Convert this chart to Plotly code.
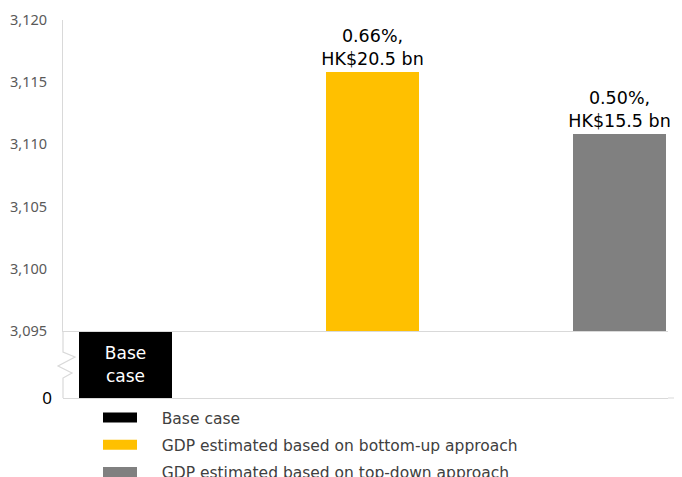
import plotly.graph_objects as go

# ---- data ----
categories = ["Base case",
              "GDP estimated based on bottom-up approach",
              "GDP estimated based on top-down approach"]
x_pos = [0, 1, 2]
values = [3095.3, 3115.8, 3110.8]
bar_text = ["Base<br>case", "0.66%,<br>HK$20.5 bn", "0.50%,<br>HK$15.5 bn"]
colors = ["#000000", "#FFC000", "#808080"]
upper_ticks = [3095, 3100, 3105, 3110, 3115, 3120]

# ---- layout helpers (screen pixels -> paper); page body has an 8px margin ----
OFF = 8
W, H = 682 - OFF, 477 - OFF
L, R, T, B = 63 - OFF, 14, 20 - OFF, 79
pw, ph = W - L - R, H - T - B
def px(x): return (x - OFF - L) / pw
def py(y): return (H - B - (y - OFF)) / ph
split = py(331)

fig = go.Figure()

# base case bar in lower (broken) axis
fig.add_trace(go.Bar(
    x=[x_pos[0]], y=[values[0]], name=categories[0],
    marker=dict(color=colors[0], line=dict(width=0)),
    width=0.38, text=[bar_text[0]], textposition="inside",
    insidetextanchor="middle", constraintext="none",
    textfont=dict(family="DejaVu Sans", size=17, color="white"),
    xaxis="x", yaxis="y", showlegend=False))

for i in (1, 2):
    fig.add_trace(go.Bar(
        x=[x_pos[i]], y=[values[i]], name=categories[i],
        marker=dict(color=colors[i], line=dict(width=0)),
        width=0.38, text=[bar_text[i]], textposition="outside",
        cliponaxis=False, constraintext="none",
        textfont=dict(family="DejaVu Sans", size=17.5, color="black"),
        xaxis="x2", yaxis="y2", showlegend=False))

# legend entries (wide rectangular swatches like the original)
pad = "\u00a0" * 4
for i in range(3):
    fig.add_trace(go.Scatter(
        x=[None], y=[None], mode="lines", name=pad + categories[i],
        line=dict(color=colors[i], width=14),
        xaxis="x2", yaxis="y2", legendgroup="g%d" % i,
        hoverinfo="skip"))

xr = [-(125.5 - 63) / 247, (668 - 125.5) / 247]
axis_line = "#d9d9d9"

fig.update_layout(
    width=W, height=H,
    margin=dict(l=L, r=R, t=T, b=B, autoexpand=False),
    plot_bgcolor="white", paper_bgcolor="white",
    bargap=0,
    showlegend=True,
    legend=dict(
        x=px(98), y=py(401), xanchor="left", yanchor="top",
        traceorder="grouped", tracegroupgap=4, itemwidth=34,
        font=dict(family="DejaVu Sans", size=15.5, color="#404040"),
        bgcolor="rgba(0,0,0,0)"),
    xaxis=dict(domain=[0, 1], anchor="y", range=xr, showticklabels=False,
               showgrid=False, zeroline=False, showline=True,
               linecolor=axis_line, linewidth=1, ticks=""),
    yaxis=dict(domain=[0, split], range=[0, 3095], tickvals=[0],
               ticktext=["0"], showgrid=False, zeroline=False,
               showline=False, ticklabelstandoff=10,
               tickfont=dict(family="Noto Sans", size=17, color="black")),
    xaxis2=dict(domain=[0, 1], anchor="y2", matches="x", range=xr,
                showticklabels=False, showgrid=False, zeroline=False,
                showline=True, linecolor=axis_line, linewidth=1, ticks=""),
    yaxis2=dict(domain=[split, 1], range=[3095, 3120], tickvals=upper_ticks,
                tickformat=",d", showgrid=False, zeroline=False,
                showline=True, linecolor=axis_line, linewidth=1,
                ticklabelstandoff=12,
                tickfont=dict(family="Noto Sans", size=14.5, color="#595959")),
)

# broken-axis zigzag on the value axis
pts = [(63, 331), (63, 352), (75, 357), (58, 366), (72, 373), (63, 378), (63, 398)]
path = "M " + " L ".join("%f,%f" % (px(a), py(b)) for a, b in pts)
fig.add_shape(type="path", path=path, xref="paper", yref="paper",
              line=dict(color=axis_line, width=1.2), layer="above")
# bottom line extends to the right edge
fig.add_shape(type="line", xref="paper", yref="paper", x0=1, x1=px(682),
              y0=0, y1=0, line=dict(color=axis_line, width=1))

fig.write_html("out.html")
